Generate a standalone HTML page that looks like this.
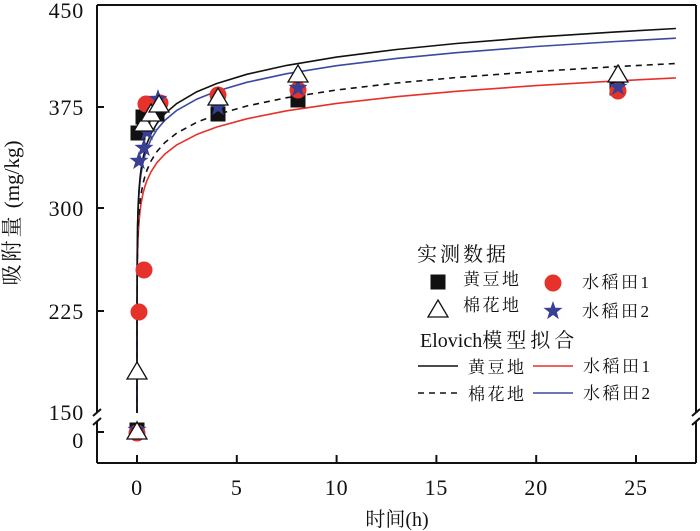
<!DOCTYPE html>
<html>
<head>
<meta charset="utf-8">
<style>
html,body{margin:0;padding:0;background:#fff;}
svg{display:block;}
text{font-family:"Liberation Serif","Noto Serif CJK SC","Noto Sans CJK SC",serif;fill:#111;}
</style>
</head>
<body>
<svg width="700" height="531" viewBox="0 0 700 531" xmlns="http://www.w3.org/2000/svg">
<rect width="700" height="531" fill="#fff"/>

<!-- curves -->
<g fill="none" stroke-width="1.6" stroke-linejoin="round">
<path stroke="#e8302a" d="M137,413 L137,399.3 L137.02,340.1 L137.2,280.9 L137.6,252.7 L138.2,234.9 L139,221.8 L140,211.4 L141,204 L143,193.5 L145,186.1 L147,180.4 L151,171.8 L157,162.6 L164.9,154 L176.9,144.8 L196.9,134.4 L216.8,127 L246.8,118.8 L286.7,110.8 L336.6,103.4 L396.5,96.7 L456.4,91.3 L536.2,85.6 L616,80.9 L675.9,77.9"/>
<path stroke="#111" stroke-dasharray="6,5" d="M137,413 L137,397.4 L137.02,335.9 L137.2,274.5 L137.6,245.1 L138.2,226.6 L139,213 L140,202.1 L141,194.5 L143,183.6 L145,176 L147,170 L151,161 L157,151.5 L164.9,142.5 L176.9,133 L196.9,122.2 L216.8,114.5 L246.8,106 L286.7,97.7 L336.6,90 L396.5,83 L456.4,77.5 L536.2,71.5 L616,66.6 L675.9,63.5"/>
<path stroke="#3b4aa0" d="M137,413 L137,384.6 L137.02,320.9 L137.2,257.1 L137.6,226.6 L138.2,207.4 L139,193.3 L140,182 L141,174.1 L143,162.9 L145,154.9 L147,148.7 L151,139.4 L157,129.5 L164.9,120.2 L176.9,110.3 L196.9,99.1 L216.8,91.1 L246.8,82.3 L286.7,73.7 L336.6,65.7 L396.5,58.4 L456.4,52.7 L536.2,46.5 L616,41.5 L675.9,38.2"/>
<path stroke="#111" d="M137,413 L137,388.6 L137.02,322.3 L137.2,256 L137.6,224.4 L138.2,204.4 L139,189.7 L140,178 L141,169.7 L143,158.1 L145,149.8 L147,143.4 L151,133.7 L157,123.4 L164.9,113.7 L176.9,103.4 L196.9,91.7 L216.8,83.5 L246.8,74.3 L286.7,65.4 L336.6,57.1 L396.5,49.5 L456.4,43.5 L536.2,37.1 L616,31.9 L675.9,28.5"/>
</g>

<!-- squares -->
<g fill="#111">
<rect x="129.5" y="422.5" width="15" height="15"/>
<rect x="130.5" y="125.5" width="15" height="15"/>
<rect x="135.5" y="109.5" width="15" height="15"/>
<rect x="149.5" y="106.5" width="15" height="15"/>
<rect x="210.5" y="106.5" width="15" height="15"/>
<rect x="290.5" y="92.5" width="15" height="15"/>
<rect x="609.5" y="80.5" width="15" height="15"/>
</g>

<!-- circles -->
<g fill="#e5322b">
<circle cx="137" cy="433" r="8.5"/>
<circle cx="139" cy="312" r="8.5"/>
<circle cx="144" cy="270" r="8.5"/>
<circle cx="146" cy="104" r="8.5"/>
<circle cx="160" cy="103" r="8.5"/>
<circle cx="218" cy="95" r="8.5"/>
<circle cx="298" cy="90" r="8.5"/>
<circle cx="618" cy="91" r="8.5"/>
</g>

<!-- stars -->
<g fill="#3a3f96">
<path transform="translate(137,430)" d="M0,-10 L2.35,-3.24 L9.51,-3.09 L3.8,1.24 L5.88,8.09 L0,4 L-5.88,8.09 L-3.8,1.24 L-9.51,-3.09 L-2.35,-3.24Z"/>
<path transform="translate(139,161)" d="M0,-10 L2.35,-3.24 L9.51,-3.09 L3.8,1.24 L5.88,8.09 L0,4 L-5.88,8.09 L-3.8,1.24 L-9.51,-3.09 L-2.35,-3.24Z"/>
<path transform="translate(144,148)" d="M0,-10 L2.35,-3.24 L9.51,-3.09 L3.8,1.24 L5.88,8.09 L0,4 L-5.88,8.09 L-3.8,1.24 L-9.51,-3.09 L-2.35,-3.24Z"/>
<path transform="translate(147,132)" d="M0,-10 L2.35,-3.24 L9.51,-3.09 L3.8,1.24 L5.88,8.09 L0,4 L-5.88,8.09 L-3.8,1.24 L-9.51,-3.09 L-2.35,-3.24Z"/>
<path transform="translate(158,99)" d="M0,-10 L2.35,-3.24 L9.51,-3.09 L3.8,1.24 L5.88,8.09 L0,4 L-5.88,8.09 L-3.8,1.24 L-9.51,-3.09 L-2.35,-3.24Z"/>
<path transform="translate(218,107)" d="M0,-10 L2.35,-3.24 L9.51,-3.09 L3.8,1.24 L5.88,8.09 L0,4 L-5.88,8.09 L-3.8,1.24 L-9.51,-3.09 L-2.35,-3.24Z"/>
<path transform="translate(298,88)" d="M0,-10 L2.35,-3.24 L9.51,-3.09 L3.8,1.24 L5.88,8.09 L0,4 L-5.88,8.09 L-3.8,1.24 L-9.51,-3.09 L-2.35,-3.24Z"/>
<path transform="translate(618,87)" d="M0,-10 L2.35,-3.24 L9.51,-3.09 L3.8,1.24 L5.88,8.09 L0,4 L-5.88,8.09 L-3.8,1.24 L-9.51,-3.09 L-2.35,-3.24Z"/>
</g>

<!-- triangles -->
<g fill="#fff" stroke="#111" stroke-width="1.3" stroke-linejoin="miter">
<path transform="translate(137,432)" d="M0,-10 L10,7 L-10,7Z"/>
<path transform="translate(137,372)" d="M0,-10 L10,7 L-10,7Z"/>
<path transform="translate(144,124)" d="M0,-10 L10,7 L-10,7Z"/>
<path transform="translate(151,114)" d="M0,-10 L10,7 L-10,7Z"/>
<path transform="translate(159,105)" d="M0,-10 L10,7 L-10,7Z"/>
<path transform="translate(218,98)" d="M0,-10 L10,7 L-10,7Z"/>
<path transform="translate(298,75)" d="M0,-10 L10,7 L-10,7Z"/>
<path transform="translate(618,75)" d="M0,-10 L10,7 L-10,7Z"/>
</g>

<!-- frame -->
<g stroke="#111" stroke-width="2" fill="none">
<path d="M97,5 L696,5"/>
<path d="M97,463 L696,463"/>
<path d="M97,5 L97,412"/>
<path d="M97,421 L97,463"/>
<path d="M93,416 L101,409"/>
<path d="M93,425 L101,418"/>
<path d="M696,5 L696,412"/>
<path d="M696,421 L696,463"/>
<path d="M692,416 L700,409"/>
<path d="M692,425 L700,418"/>
<!-- y ticks -->
<path d="M97,107 L104,107"/>
<path d="M97,208 L104,208"/>
<path d="M97,311 L104,311"/>
<path d="M97,432 L104,432"/>
<!-- x ticks -->
<path d="M137,463 L137,455"/>
<path d="M236.8,463 L236.8,455"/>
<path d="M336.6,463 L336.6,455"/>
<path d="M436.4,463 L436.4,455"/>
<path d="M536.2,463 L536.2,455"/>
<path d="M636,463 L636,455"/>
</g>

<!-- y tick labels -->
<g font-size="22" text-anchor="end" letter-spacing="0.8">
<text x="84" y="18">450</text>
<text x="84" y="115">375</text>
<text x="84" y="216">300</text>
<text x="84" y="319">225</text>
<text x="84" y="420">150</text>
<text x="84" y="448">0</text>
</g>

<!-- x tick labels -->
<g font-size="22" text-anchor="middle" letter-spacing="0.8">
<text x="137" y="495">0</text>
<text x="236.8" y="495">5</text>
<text x="336.6" y="495">10</text>
<text x="436.4" y="495">15</text>
<text x="536.2" y="495">20</text>
<text x="636" y="495">25</text>
</g>

<!-- axis titles -->
<text x="397" y="526" font-size="20" text-anchor="middle">时间(h)</text>
<text transform="translate(19,213) rotate(-90)" font-size="21" text-anchor="middle"><tspan letter-spacing="3">吸附量</tspan> (mg/kg)</text>

<!-- legend -->
<text x="417" y="261" font-size="20" letter-spacing="3">实测数据</text>
<rect x="430.5" y="274.5" width="15" height="15" fill="#111"/>
<text x="463" y="285" font-size="17" letter-spacing="2.5">黄豆地</text>
<circle cx="553" cy="283" r="8.5" fill="#e5322b"/>
<text x="582" y="288" font-size="17" letter-spacing="2.5">水稻田1</text>
<path transform="translate(438,310)" d="M0,-10 L10,7 L-10,7Z" fill="#fff" stroke="#111" stroke-width="1.3"/>
<text x="463" y="311" font-size="17" letter-spacing="2.5">棉花地</text>
<path transform="translate(553,311)" fill="#3a3f96" d="M0,-10 L2.35,-3.24 L9.51,-3.09 L3.8,1.24 L5.88,8.09 L0,4 L-5.88,8.09 L-3.8,1.24 L-9.51,-3.09 L-2.35,-3.24Z"/>
<text x="582" y="317" font-size="17" letter-spacing="2.5">水稻田2</text>

<text x="420" y="347" font-size="20">Elovich<tspan letter-spacing="4">模型拟合</tspan></text>
<g stroke-width="1.6" fill="none">
<path d="M418,366 L458,366" stroke="#111"/>
<path d="M533,366 L573,366" stroke="#e8302a"/>
<path d="M418,393 L458,393" stroke="#111" stroke-dasharray="6,5"/>
<path d="M533,393 L573,393" stroke="#3b4aa0"/>
</g>
<text x="468" y="373" font-size="17" letter-spacing="2.5">黄豆地</text>
<text x="583" y="372" font-size="17" letter-spacing="2.5">水稻田1</text>
<text x="468" y="400" font-size="17" letter-spacing="2.5">棉花地</text>
<text x="583" y="399" font-size="17" letter-spacing="2.5">水稻田2</text>
</svg>
</body>
</html>
